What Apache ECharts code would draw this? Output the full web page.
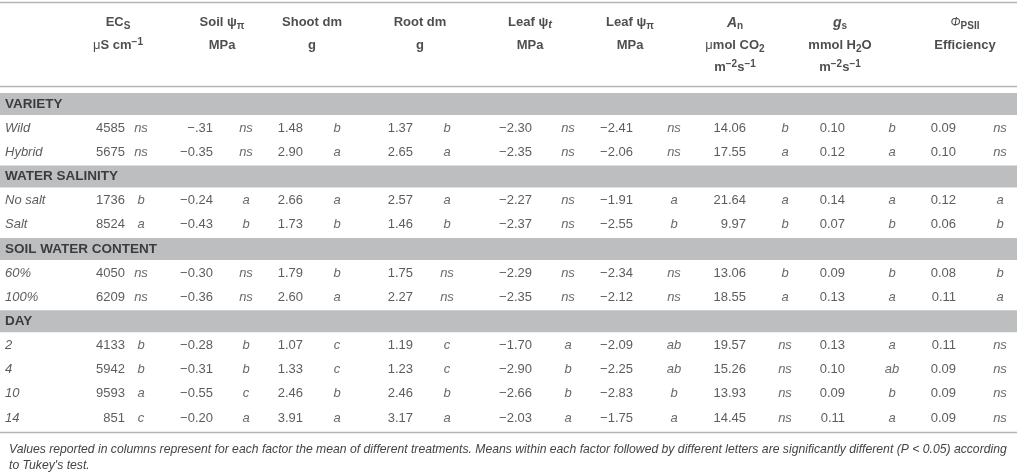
<!DOCTYPE html>
<html>
<head>
<meta charset="utf-8">
<script src="https://cdn.jsdelivr.net/npm/echarts@6/dist/echarts.min.js"></script>
<style>
  html, body { margin: 0; padding: 0; background: #fff; }
  #table { width: 1017px; height: 472px; }
</style>
</head>
<body>
<div id="table"></div>
<script>
// table data
const sections = ['VARIETY', 'WATER SALINITY', 'SOIL WATER CONTENT', 'DAY'];
const groups = [['Wild', 'Hybrid'], ['No salt', 'Salt'], ['60%', '100%'], ['2', '4', '10', '14']];

const ecs      = ['4585', '5675', '1736', '8524', '4050', '6209', '4133', '5942', '9593', '851'];
const ecsSig   = ['ns', 'ns', 'b', 'a', 'ns', 'ns', 'b', 'b', 'a', 'c'];
const soilPsi  = ['−.31', '−0.35', '−0.24', '−0.43', '−0.30', '−0.36', '−0.28', '−0.31', '−0.55', '−0.20'];
const soilSig  = ['ns', 'ns', 'a', 'b', 'ns', 'ns', 'b', 'b', 'c', 'a'];
const shootDm  = ['1.48', '2.90', '2.66', '1.73', '1.79', '2.60', '1.07', '1.33', '2.46', '3.91'];
const shootSig = ['b', 'a', 'a', 'b', 'b', 'a', 'c', 'c', 'b', 'a'];
const rootDm   = ['1.37', '2.65', '2.57', '1.46', '1.75', '2.27', '1.19', '1.23', '2.46', '3.17'];
const rootSig  = ['b', 'a', 'a', 'b', 'ns', 'ns', 'c', 'c', 'b', 'a'];
const leafT    = ['−2.30', '−2.35', '−2.27', '−2.37', '−2.29', '−2.35', '−1.70', '−2.90', '−2.66', '−2.03'];
const leafTSig = ['ns', 'ns', 'ns', 'ns', 'ns', 'ns', 'a', 'b', 'b', 'a'];
const leafP    = ['−2.41', '−2.06', '−1.91', '−2.55', '−2.34', '−2.12', '−2.09', '−2.25', '−2.83', '−1.75'];
const leafPSig = ['ns', 'ns', 'a', 'b', 'ns', 'ns', 'ab', 'ab', 'b', 'a'];
const an       = ['14.06', '17.55', '21.64', '9.97', '13.06', '18.55', '19.57', '15.26', '13.93', '14.45'];
const anSig    = ['b', 'a', 'a', 'b', 'b', 'a', 'ns', 'ns', 'ns', 'ns'];
const gs       = ['0.10', '0.12', '0.14', '0.07', '0.09', '0.13', '0.13', '0.10', '0.09', '0.11'];
const gsSig    = ['b', 'a', 'a', 'b', 'b', 'a', 'a', 'ab', 'b', 'a'];
const psii     = ['0.09', '0.10', '0.12', '0.06', '0.08', '0.11', '0.11', '0.09', '0.09', '0.09'];
const psiiSig  = ['ns', 'ns', 'a', 'b', 'b', 'a', 'ns', 'ns', 'ns', 'ns'];

// header, three lines per column (rich text keys)
const headers = [
  ['EC{sub|S}', '{mu|μ}S cm{sup|−1}', ''],
  ['Soil ψ{sub|π}', 'MPa', ''],
  ['Shoot dm', 'g', ''],
  ['Root dm', 'g', ''],
  ['Leaf ψ{subi|t}', 'MPa', ''],
  ['Leaf ψ{sub|π}', 'MPa', ''],
  ['{it|A}{sub|n}', '{mu|μ}mol CO{sub|2}', 'm{sup|−2}s{sup|−1}'],
  ['{it|g}{sub|s}', 'mmol H{sub|2}O', 'm{sup|−2}s{sup|−1}'],
  ['{phi|Φ}{sub|PSII}', 'Efficiency', '']
];

const footnote = 'Values reported in columns represent for each factor the mean of different treatments. Means within each factor followed by different letters are significantly different (P < 0.05) according\nto Tukey\'s test.';

// layout of the columns: value right edge, letter centre, header centre
const cols = [
  { vals: ecs,     sigs: ecsSig,   valX: 125, sigX: 141, headX: 118 },
  { vals: soilPsi, sigs: soilSig,  valX: 213, sigX: 246, headX: 222 },
  { vals: shootDm, sigs: shootSig, valX: 303, sigX: 337, headX: 312 },
  { vals: rootDm,  sigs: rootSig,  valX: 413, sigX: 447, headX: 420 },
  { vals: leafT,   sigs: leafTSig, valX: 532, sigX: 568, headX: 530 },
  { vals: leafP,   sigs: leafPSig, valX: 633, sigX: 674, headX: 630 },
  { vals: an,      sigs: anSig,    valX: 746, sigX: 785, headX: 735 },
  { vals: gs,      sigs: gsSig,    valX: 845, sigX: 892, headX: 840 },
  { vals: psii,    sigs: psiiSig,  valX: 956, sigX: 1000, headX: 965 }
];

// rows: section bands + data rows
const rows = [];
const dataRowIdx = [];
const bandRowIdx = [];
sections.forEach((s, i) => {
  bandRowIdx.push(rows.length);
  rows.push(s);
  groups[i].forEach(g => { dataRowIdx.push(rows.length); rows.push(g); });
});

const FONT = '"Liberation Sans", Arial, Helvetica, sans-serif';
const textCol = '#333';
const headCol = '#222';

const headRich = {
  sub:  { fontSize: 10, fontWeight: 'bold', padding: [7, 0, 0, 0], fontFamily: FONT, color: headCol },
  subi: { fontSize: 11, fontWeight: 'bold', fontStyle: 'italic', padding: [4, 0, 0, 0], fontFamily: FONT, color: headCol },
  sup:  { fontSize: 10, fontWeight: 'bold', padding: [0, 0, 7, 0], fontFamily: FONT, color: headCol },
  mu:   { fontSize: 13, fontWeight: 'normal', fontFamily: FONT, color: headCol },
  it:   { fontSize: 14, fontWeight: 'bold', fontStyle: 'italic', fontFamily: FONT, color: headCol },
  phi:  { fontSize: 12, fontStyle: 'italic', fontWeight: 'normal', fontFamily: FONT, color: headCol }
};

function textSeries(name, gridIdx, data, position, style) {
  return {
    name: name,
    type: 'scatter',
    xAxisIndex: gridIdx,
    yAxisIndex: gridIdx,
    symbolSize: 0,
    silent: true,
    data: data,
    label: Object.assign({
      show: true,
      position: position,
      distance: 0,
      fontFamily: FONT,
      fontSize: 13,
      color: textCol,
      formatter: p => p.value[2]
    }, style || {})
  };
}

const series = [];

// grey section bands
series.push({
  name: 'bands',
  type: 'bar',
  xAxisIndex: 0,
  yAxisIndex: 0,
  silent: true,
  barWidth: 22,
  itemStyle: { color: '#bdbec0' },
  data: rows.map((r, i) => bandRowIdx.includes(i) ? 1017 : '-')
});

// section titles
series.push(textSeries('sections', 0,
  bandRowIdx.map(i => [5, i, rows[i]]), 'right',
  { fontWeight: 'bold', color: '#1a1a1a', fontSize: 13.5 }));

// row labels
series.push(textSeries('rowLabels', 0,
  dataRowIdx.map(i => [5, i, rows[i]]), 'right',
  { fontStyle: 'italic' }));

// values and letters
cols.forEach((c, ci) => {
  series.push(textSeries('val' + ci, 0,
    dataRowIdx.map((ri, k) => [c.valX, ri, c.vals[k]]), 'left'));
  series.push(textSeries('sig' + ci, 0,
    dataRowIdx.map((ri, k) => [c.sigX, ri, c.sigs[k]]), 'inside',
    { fontStyle: 'italic', color: '#444' }));
});

// header lines
const headData = [];
headers.forEach((h, ci) => h.forEach((line, li) => {
  if (line) headData.push([cols[ci].headX, li, line]);
}));
series.push(textSeries('header', 1, headData, 'inside',
  { fontWeight: 'bold', color: headCol, fontSize: 13, rich: headRich }));

const chart = echarts.init(document.getElementById('table'), null, { renderer: 'canvas' });
chart.setOption({
  animation: false,
  backgroundColor: '#fff',
  title: {
    text: footnote,
    left: 4,
    top: 437,
    textStyle: { fontFamily: FONT, fontSize: 12.2, fontStyle: 'italic', fontWeight: 'normal', color: '#444', lineHeight: 16 }
  },
  grid: [
    { left: 0, width: 1017, top: 92, height: 338 },
    { left: 0, width: 1017, top: 11.5, height: 67.5 }
  ],
  xAxis: [
    { type: 'value', gridIndex: 0, min: 0, max: 1017, show: false },
    { type: 'value', gridIndex: 1, min: 0, max: 1017, show: false }
  ],
  yAxis: [
    { type: 'category', gridIndex: 0, data: rows, inverse: true, show: false },
    { type: 'category', gridIndex: 1, data: ['l1', 'l2', 'l3'], inverse: true, show: false }
  ],
  graphic: [
    { type: 'line', shape: { x1: 0, y1: 2.5, x2: 1017, y2: 2.5 }, style: { stroke: '#b5b5b5', lineWidth: 1.5 } },
    { type: 'line', shape: { x1: 0, y1: 86.5, x2: 1017, y2: 86.5 }, style: { stroke: '#b5b5b5', lineWidth: 1.5 } },
    { type: 'line', shape: { x1: 0, y1: 432.5, x2: 1017, y2: 432.5 }, style: { stroke: '#b5b5b5', lineWidth: 1.5 } }
  ],
  series: series
});
</script>
</body>
</html>
